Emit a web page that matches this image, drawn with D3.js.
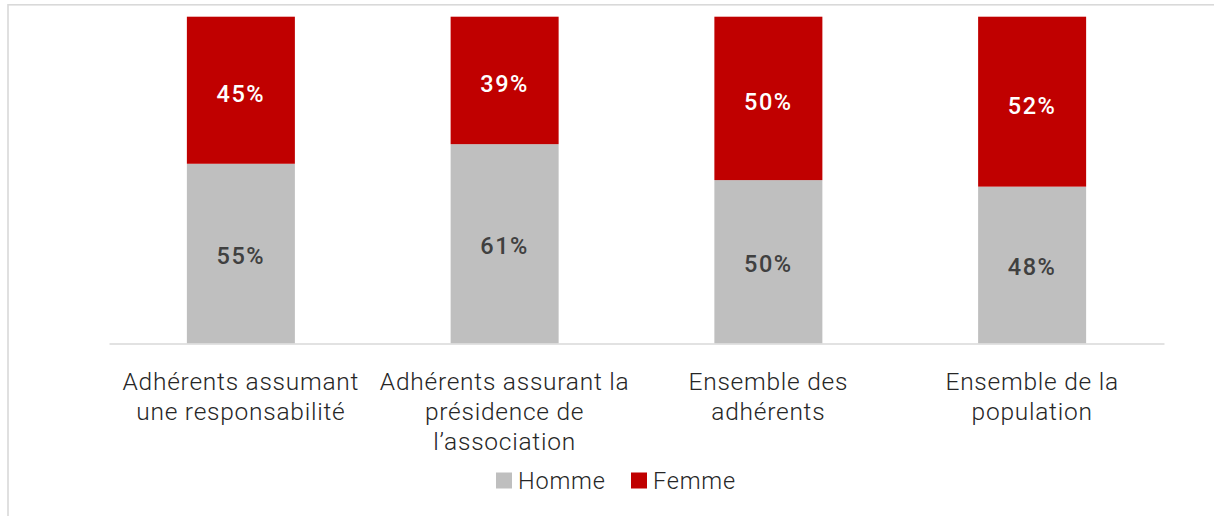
<!DOCTYPE html>
<html>
<head>
<meta charset="utf-8">
<script src="https://cdn.jsdelivr.net/npm/d3@7"></script>
<style>
  html, body { margin: 0; padding: 0; background: #fff; }
  svg { display: block; }
  text { font-family: Roboto, "Noto Sans", sans-serif; }
</style>
</head>
<body>
<svg id="chart" width="1214" height="516"></svg>
<script>
// ---- Data ----
const categories = [
  "Adhérents assumant\nune responsabilité",
  "Adhérents assurant la\nprésidence de\nl’association",
  "Ensemble des\nadhérents",
  "Ensemble de la\npopulation"
];
const seriesNames = ["Homme", "Femme"];
const homme = [55, 61, 50, 48];
const femme = [45, 39, 50, 52];

// ---- Layout ----
const W = 1214, H = 516;
const plot = { left: 109, right: 1164, top: 16.7, bottom: 343.5 };
const colors = { Homme: "#bfbfbf", Femme: "#c00000" };
const labelColors = { Homme: "#404040", Femme: "#ffffff" };
const labelOffset = { Homme: 1.5, Femme: 3.5 };

const svg = d3.select("#chart");

// chart frame (cropped at right/bottom as in reference)
svg.append("rect")
  .attr("x", 8).attr("y", 4.8)
  .attr("width", W + 20).attr("height", H + 20)
  .attr("fill", "none")
  .attr("stroke", "#d9d9d9")
  .attr("stroke-width", 1.6);

const rows = categories.map((c, i) => ({ cat: c, Homme: homme[i], Femme: femme[i] }));
const stack = d3.stack().keys(seriesNames)(rows);

const x = d3.scaleBand()
  .domain(categories)
  .range([plot.left, plot.right])
  .paddingInner(0.5905)
  .paddingOuter(0.5905 / 2);

const y = d3.scaleLinear().domain([0, 100]).range([plot.bottom, plot.top]);

const g = svg.append("g");

stack.forEach(layer => {
  const key = layer.key;
  const lg = g.append("g");
  lg.selectAll("rect").data(layer).join("rect")
    .attr("x", d => x(d.data.cat))
    .attr("width", x.bandwidth())
    .attr("y", d => y(d[1]))
    .attr("height", d => y(d[0]) - y(d[1]))
    .attr("fill", colors[key]);
  lg.selectAll("text").data(layer).join("text")
    .attr("x", d => x(d.data.cat) + x.bandwidth() / 2)
    .attr("y", d => (y(d[0]) + y(d[1])) / 2 + labelOffset[key])
    .attr("dy", "0.36em")
    .attr("text-anchor", "middle")
    .attr("font-size", 23.5)
    .attr("font-weight", 500)
    .attr("letter-spacing", "1.6px")
    .attr("fill", labelColors[key])
    .text(d => (d[1] - d[0]) + "%");
});

// x axis
const xAxis = d3.axisBottom(x).tickSize(0).tickFormat("");
const axG = svg.append("g")
  .attr("transform", `translate(0,${plot.bottom})`)
  .call(xAxis);
axG.select(".domain")
  .attr("stroke", "#d9d9d9")
  .attr("stroke-width", 1.6);

// category labels (multi-line)
const catG = svg.append("g");
categories.forEach(c => {
  const lines = c.split("\n");
  const t = catG.append("text")
    .attr("text-anchor", "middle")
    .attr("font-size", 24.5)
    .attr("font-weight", 300)
    .attr("letter-spacing", "0.75px")
    .attr("fill", "#262626");
  lines.forEach((ln, j) => {
    t.append("tspan")
      .attr("x", x(c) + x.bandwidth() / 2)
      .attr("y", 390 + j * 30)
      .text(ln);
  });
});

// legend
const legend = svg.append("g");
const legendX = [496, 631];
seriesNames.forEach((s, i) => {
  legend.append("rect")
    .attr("x", legendX[i]).attr("y", 472.5)
    .attr("width", 16).attr("height", 16)
    .attr("fill", colors[s]);
  legend.append("text")
    .attr("x", legendX[i] + 22).attr("y", 488.7)
    .attr("font-size", 23.5)
    .attr("font-weight", 300)
    .attr("letter-spacing", "0.8px")
    .attr("fill", "#262626")
    .text(s);
});
</script>
</body>
</html>
